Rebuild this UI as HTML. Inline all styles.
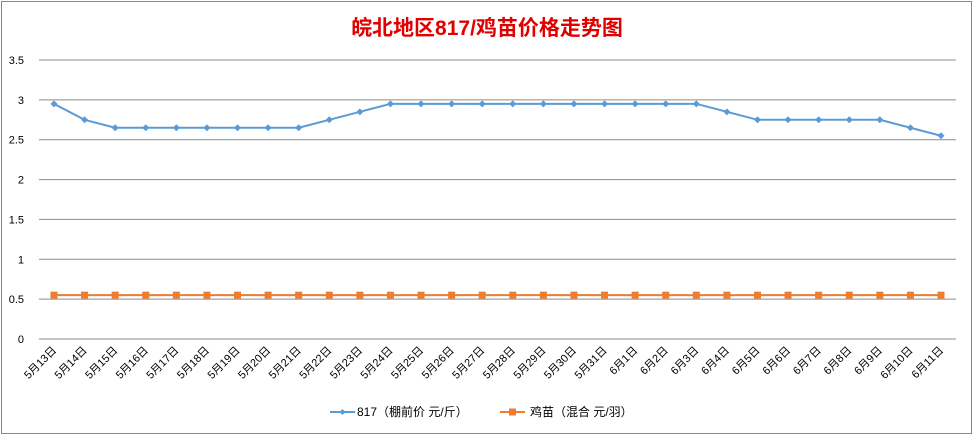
<!DOCTYPE html>
<html><head><meta charset="utf-8"><style>
body{margin:0;background:#fff;}
svg{display:block;font-family:"Liberation Sans","Noto Sans CJK SC",sans-serif;}
</style></head><body>
<svg width="974" height="437">
<rect x="1.5" y="1.5" width="970" height="432" fill="#fff" stroke="#888"/>
<text x="487" y="35" text-anchor="middle" font-size="21" font-weight="bold" fill="#e00000" font-family="'Liberation Sans','Noto Sans CJK SC',sans-serif">皖北地区817/鸡苗价格走势图</text>
<g id="grid"></g><g id="xl"></g><g id="series"></g>
<g font-size="12" fill="#000">
<line x1="330" y1="412" x2="355" y2="412" stroke="#5b9bd5" stroke-width="2"/>
<path d="M342.5 409 L345.5 412 L342.5 415 L339.5 412Z" fill="#5b9bd5"/>
<text x="357" y="416">817（棚前价 元/斤）</text>
<line x1="500" y1="412" x2="525" y2="412" stroke="#ed7d31" stroke-width="2"/>
<rect x="509" y="408.5" width="7" height="7" fill="#ed7d31"/>
<text x="530" y="416">鸡苗（混合 元/羽）</text>
</g>
</svg>
<script>
const categories=["5月13日","5月14日","5月15日","5月16日","5月17日","5月18日","5月19日","5月20日","5月21日","5月22日","5月23日","5月24日","5月25日","5月26日","5月27日","5月28日","5月29日","5月30日","5月31日","6月1日","6月2日","6月3日","6月4日","6月5日","6月6日","6月7日","6月8日","6月9日","6月10日","6月11日"];
const price817=[2.95,2.75,2.65,2.65,2.65,2.65,2.65,2.65,2.65,2.75,2.85,2.95,2.95,2.95,2.95,2.95,2.95,2.95,2.95,2.95,2.95,2.95,2.85,2.75,2.75,2.75,2.75,2.75,2.65,2.55];
const chickPrice=[0.55,0.55,0.55,0.55,0.55,0.55,0.55,0.55,0.55,0.55,0.55,0.55,0.55,0.55,0.55,0.55,0.55,0.55,0.55,0.55,0.55,0.55,0.55,0.55,0.55,0.55,0.55,0.55,0.55,0.55];
const yTicks=[0,0.5,1,1.5,2,2.5,3,3.5];
const NS="http://www.w3.org/2000/svg";
const x0=54,x1=941,yB=339,yT=60,ymax=3.5;
const xs=i=>x0+i*(x1-x0)/(categories.length-1);
const ys=v=>yB-v/ymax*(yB-yT);
function mk(t,a,p){const e=document.createElementNS(NS,t);for(const k in a)e.setAttribute(k,a[k]);p.appendChild(e);return e;}
const g=document.getElementById('grid');
yTicks.forEach(v=>{
 const l=mk('line',{x1:39,x2:956,y1:ys(v),y2:ys(v),stroke:v===0?'#888':'#8c8c8c','stroke-width':1},g);
 
 
 const t=mk('text',{x:24,y:ys(v)+4,'text-anchor':'end','font-size':11},g);
 t.textContent=String(v);
 
 
});
const xl=document.getElementById('xl');
categories.forEach((c,i)=>{
 const x=xs(i)+3,y=351;
 const t=mk('text',{x:x,y:y,'text-anchor':'end','font-size':11,transform:`rotate(-45 ${x} ${y})`},xl);
 t.textContent=c;
 
 
});
const s=document.getElementById('series');
const p1=mk('polyline',{points:price817.map((v,i)=>xs(i)+','+ys(v)).join(' '),fill:'none',stroke:'#5b9bd5','stroke-width':2},s);


price817.forEach((v,i)=>{const x=xs(i),y=ys(v);
 const d=mk('path',{d:`M${x} ${y-3.5}L${x+3.5} ${y}L${x} ${y+3.5}L${x-3.5} ${y}Z`,fill:'#5b9bd5'},s);
 
 });
const p2=mk('polyline',{points:chickPrice.map((v,i)=>xs(i)+','+ys(v)).join(' '),fill:'none',stroke:'#ed7d31','stroke-width':2},s);


chickPrice.forEach((v,i)=>{const x=xs(i),y=ys(v);
 const r=mk('rect',{x:x-3.5,y:y-3.5,width:7,height:7,fill:'#ed7d31'},s);
 
 });
</script>
</body></html>
